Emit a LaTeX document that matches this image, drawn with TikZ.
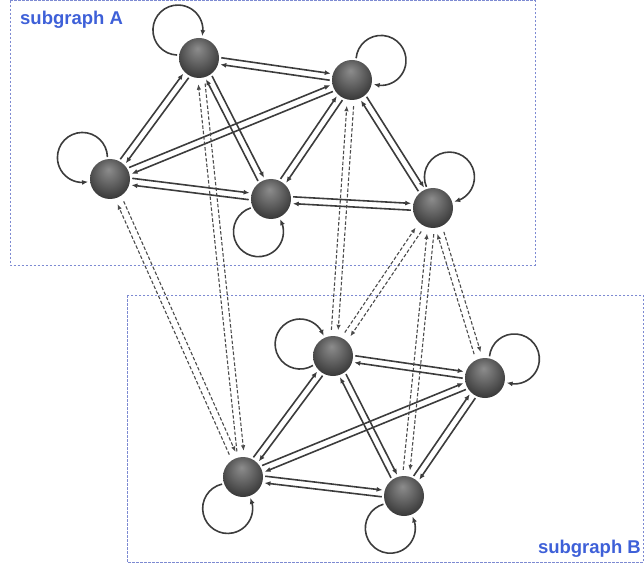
\documentclass[tikz,border=0pt]{standalone}
\usepackage{fontspec}
\setmainfont{Liberation Sans}
\usetikzlibrary{calc,arrows.meta,bending}
\definecolor{lblblue}{RGB}{62,96,216}
\definecolor{boxcol}{RGB}{125,138,210}
\definecolor{edgecol}{RGB}{60,60,60}
\definecolor{dashcol}{RGB}{75,75,75}
\pgfdeclareradialshading{sphere}{\pgfpoint{-2bp}{12bp}}{color(0bp)=(black!45); color(12bp)=(black!58); color(28bp)=(black!76); color(40bp)=(black!86); color(50bp)=(black!86)}
\tikzset{
  ballnode/.style={circle, minimum size=40pt, inner sep=0pt, shading=sphere},
  edge/.style={draw=edgecol, line width=1.6pt, -{Latex[length=6pt,width=5pt]}, shorten >=22pt, shorten <=22pt},
  dedge/.style={draw=dashcol, line width=1.1pt, dash pattern=on 3.5pt off 2pt, -{Latex[length=5.5pt,width=4.5pt]}, shorten >=26pt, shorten <=26pt},
  loopedge/.style={draw=edgecol, line width=1.6pt, -{Latex[length=6pt,width=5pt]}},
  groupbox/.style={draw=boxcol, line width=1pt, dash pattern=on 2.5pt off 1.5pt},
  grouplabel/.style={text=lblblue, font=\fontsize{18.5}{20}\selectfont\bfseries, inner sep=0pt}
}
\newcommand\biedge[3][edge]{%
  \draw[#1] ($(#2.center)!3.4pt!90:(#3.center)$) -- ($(#3.center)!3.4pt!-90:(#2.center)$);
  \draw[#1] ($(#3.center)!3.4pt!90:(#2.center)$) -- ($(#2.center)!3.4pt!-90:(#3.center)$);}
\newcommand\selfloop[3]{%
  \draw[loopedge] ($(#1.center)+(#2:35pt)+({#2+(#3)*141}:25pt)$) arc[start angle={#2+(#3)*141}, end angle={#2-(#3)*141}, radius=25pt];}
\begin{document}
\begin{tikzpicture}[x=1pt,y=1pt]
\useasboundingbox (0,0) rectangle (644,-569);
% group boxes
\draw[groupbox] (10,-0.6) rectangle (535,-265);
\draw[groupbox] (127,-295) rectangle (643.2,-562);
\node[grouplabel, anchor=base west] (la) at (20,-25) {subgraph A};
\node[grouplabel, anchor=base east] (lb) at (641,-553) {subgraph B};
% nodes
\node[ballnode] (A1) at (199,-58) {};
\node[ballnode] (A2) at (352,-80) {};
\node[ballnode] (A3) at (110,-179) {};
\node[ballnode] (A4) at (271,-199) {};
\node[ballnode] (A5) at (433,-208) {};
\node[ballnode] (B1) at (333,-356) {};
\node[ballnode] (B2) at (485,-378) {};
\node[ballnode] (B3) at (243,-477) {};
\node[ballnode] (B4) at (404,-496) {};
% edges in A
\biedge{A1}{A2}
\biedge{A1}{A3}
\biedge{A1}{A4}
\biedge{A2}{A3}
\biedge{A2}{A4}
\biedge{A2}{A5}
\biedge{A3}{A4}
\biedge{A4}{A5}
% edges in B
\biedge{B1}{B2}
\biedge{B1}{B3}
\biedge{B1}{B4}
\biedge{B2}{B3}
\biedge{B2}{B4}
\biedge{B3}{B4}
% edges between groups
\biedge[dedge]{A3}{B3}
\biedge[dedge]{A1}{B3}
\biedge[dedge]{A2}{B1}
\biedge[dedge]{A5}{B1}
\biedge[dedge]{A5}{B4}
\biedge[dedge]{A5}{B2}
% self loops
\selfloop{A1}{127}{1}
\selfloop{A2}{34}{1}
\selfloop{A3}{142}{-1}
\selfloop{A4}{249}{-1}
\selfloop{A5}{62}{1}
\selfloop{B1}{160}{1}
\selfloop{B2}{33}{1}
\selfloop{B3}{244}{-1}
\selfloop{B4}{247}{-1}
\end{tikzpicture}
\end{document}
